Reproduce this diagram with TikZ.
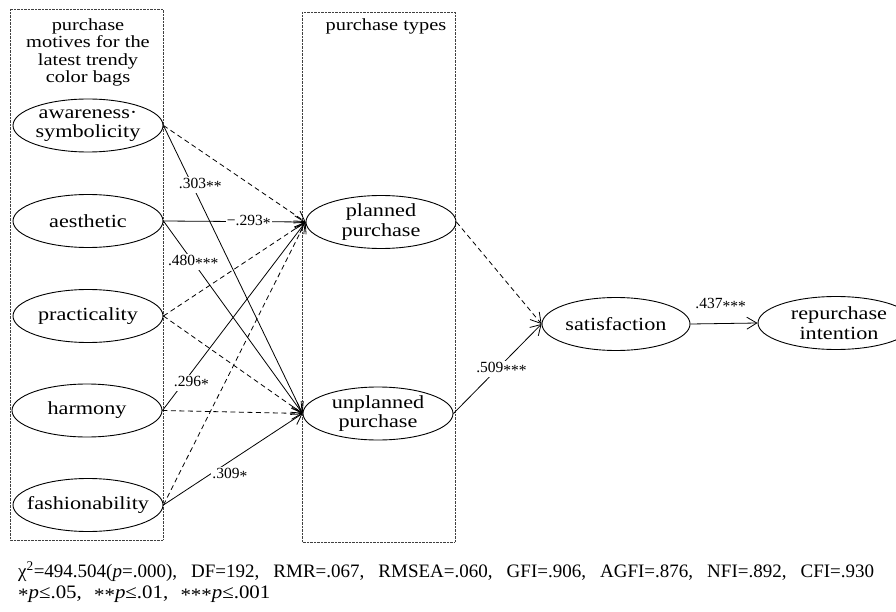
\documentclass[tikz,border=0pt]{standalone}
\usepackage{fontspec}
\setmainfont{Liberation Serif}
\newfontfamily\widefont{Liberation Serif}[FakeStretch=1.2]
\newfontfamily\midfont{Liberation Serif}[FakeStretch=1.1]
\usetikzlibrary{shapes.geometric,arrows.meta}
\newcommand\astr{\raisebox{-0.45ex}{*}}
\begin{document}
\begin{tikzpicture}[x=1pt,y=-1pt,
  ell/.style={draw, ellipse, line width=0.9pt, minimum width=150pt, minimum height=53pt, inner sep=0pt},
  etext/.style={font=\widefont\fontsize{18.5}{19.5}\selectfont, align=center, inner sep=0pt},
  ttext/.style={font=\widefont\fontsize{17}{17.5}\selectfont, align=center, inner sep=0pt},
  grpbox/.style={draw=black!75, line width=0.7pt, dash pattern=on 0.7pt off 0.7pt},
  arr/.style={line width=0.8pt, -{Straight Barb[length=10pt,width=12pt]}},
  dsh/.style={arr, dash pattern=on 5pt off 3.5pt},
  lbl/.style={font=\fontsize{15.5}{16}\selectfont, fill=white, inner sep=1pt},
  fittext/.style={anchor=base west, inner sep=0pt, font=\fontsize{19}{20}\selectfont},
]
\useasboundingbox (0,0) rectangle (896,612);
\clip (0,0) rectangle (896,612);
\fill[white] (0,0) rectangle (896,612);

% group boxes
\draw[grpbox] (10,9) rectangle (163,540);
\draw[grpbox] (302,12) rectangle (455,542);
\node[ttext] (t1) at (88,52.5) {purchase\\motives for the\\latest trendy\\color bags};
\node[ttext, anchor=base] (t2) at (386,31) {purchase types};

% nodes
\node[ell, label={[etext]center:awareness·\\symbolicity}] (aw) at (88,125.5) {};
\node[ell, label={[etext]center:aesthetic}] (ae) at (88,221) {};
\node[ell, label={[etext]center:practicality}] (pr) at (88,316) {};
\node[ell, label={[etext]center:harmony}] (ha) at (87,410.5) {};
\node[ell, label={[etext]center:fashionability}] (fa) at (88,505) {};
\node[ell, label={[etext]center:planned\\purchase}] (pl) at (381,222) {};
\node[ell, label={[etext]center:unplanned\\purchase}] (un) at (378,413.5) {};
\node[ell, minimum width=148pt, label={[etext]center:satisfaction}] (sa) at (616,324) {};
\node[ell, minimum width=156pt, label={[etext, xshift=3pt]center:repurchase\\intention}] (re) at (836,323) {};

% dashed paths
\draw[dsh] (aw.east) -- (pl.west);
\draw[dsh] (pr.east) -- (pl.west);
\draw[dsh] (pr.east) -- (un.west);
\draw[dsh] (ha.east) -- (un.west);
\draw[dsh] (fa.east) -- (pl.west);
\draw[dsh] (pl.east) -- (sa.west);

% solid paths
\draw[arr] (aw.east) -- node[lbl, pos=0.207, xshift=8pt] {.303\astr\astr} (un.west);
\draw[arr] (ae.east) -- node[lbl, pos=0.6] {−.293\astr} (pl.west);
\draw[arr] (ae.east) -- node[lbl, pos=0.214] {.480\astr\astr\astr} (un.west);
\draw[arr] (ha.east) -- node[lbl, pos=0.146, xshift=8pt] {.296\astr} (pl.west);
\draw[arr] (fa.east) -- node[lbl, pos=0.42, xshift=8pt, yshift=-8pt] {.309\astr} (un.west);
\draw[arr] (un.east) -- node[lbl, pos=0.5, xshift=4pt] {.509\astr\astr\astr} (sa.west);
\draw[arr] (sa.east) -- node[lbl, fill=none, pos=0.45, yshift=19pt] {.437\astr\astr\astr} (re.west);

% fit statistics
\node[fittext] (fit1) at (18,577) {\makebox[856pt][s]{χ\textsuperscript{2}=494.504(\textit{p}=.000), DF=192, RMR=.067, RMSEA=.060, GFI=.906, AGFI=.876, NFI=.892, CFI=.930}};
\node[fittext, font=\midfont\fontsize{19}{20}\selectfont] (fit2) at (18,598) {\astr\textit{p}≤.05,\hspace{7pt} \astr\astr\textit{p}≤.01,\hspace{7pt} \astr\astr\astr\textit{p}≤.001};
\end{tikzpicture}
\end{document}
